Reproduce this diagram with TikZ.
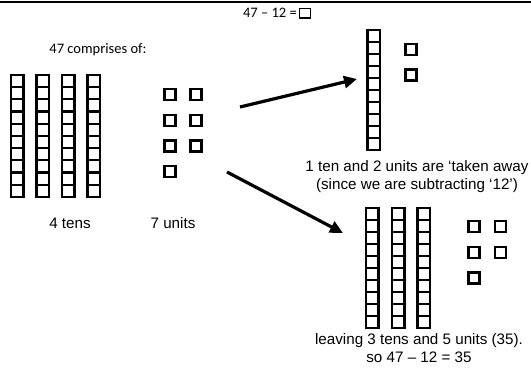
\documentclass[tikz,border=0pt]{standalone}
\usepackage{fontspec}
\setmainfont{Liberation Sans}
\newfontfamily\calfont{Carlito}
\usetikzlibrary{arrows.meta}
\newcommand\tenrod[4]{%
  \foreach \k in {0,...,9}{%
    \draw[cell] (#2,{#3+\k*(#4-#3)/10}) rectangle ++(12.5,{(#4-#3)/10});}%
  \coordinate (#1) at ({#2+6.25},{(#3+#4)/2});}
\begin{document}
\begin{tikzpicture}[x=1pt,y=-1pt,
  cell/.style={draw=black,line width=2.2pt},
  unit/.style={draw=black,line width=2.6pt,minimum size=11pt,inner sep=0pt},
  lbl/.style={font=\fontsize{15.2}{18}\selectfont,align=center,inner sep=0pt},
  clbl/.style={font=\calfont\fontsize{14.5}{17}\selectfont,inner sep=0pt},
  arr/.style={line width=3.2pt,-{Triangle[length=13pt,width=12pt]}}]
\useasboundingbox (0,0) rectangle (531,374);
\draw[line width=1.3pt] (0,2) -- (531,2);
% title
\node[clbl,anchor=east] (eq) at (297,13) {47 – 12 =};
\draw[line width=1.5pt] (299.5,8.5) rectangle (310.5,18);
\node[clbl] (comp) at (98,50) {47 comprises of:};
% left tens
\tenrod{t1}{11}{75}{197}
\tenrod{t2}{36.5}{75}{197}
\tenrod{t3}{62}{75}{197}
\tenrod{t4}{87.5}{75}{197}
% left units
\node[unit] (u1) at (170,94.5) {};
\node[unit] (u2) at (196,94.5) {};
\node[unit] (u3) at (170,120.5) {};
\node[unit] (u4) at (196,120.5) {};
\node[unit] (u5) at (170,146) {};
\node[unit] (u6) at (196,146) {};
\node[unit] (u7) at (170,171.5) {};
\node[lbl] (tens) at (70,223) {4 tens};
\node[lbl] (units) at (173,223) {7 units};
% upper right
\tenrod{r1}{367.5}{30}{150}
\node[unit] (v1) at (411,49.5) {};
\node[unit] (v2) at (411,75) {};
\node[lbl] (taken) at (417,177) {1 ten and 2 units are ‘taken away\\(since we are subtracting ‘12’)};
% lower right
\tenrod{s1}{366}{208}{328}
\tenrod{s2}{392}{208}{328}
\tenrod{s3}{417.5}{208}{328}
\node[unit] (w1) at (474,226.5) {};
\node[unit] (w2) at (500.5,226.5) {};
\node[unit] (w3) at (474,252.5) {};
\node[unit] (w4) at (500.5,252.5) {};
\node[unit] (w5) at (474,278) {};
\node[lbl] (leave) at (419,348.5) {leaving 3 tens and 5 units (35).\\so 47 – 12 = 35};
% arrows
\coordinate (a1s) at (240,107);
\coordinate (a1e) at (357,79);
\coordinate (a2s) at (227,172);
\coordinate (a2e) at (343,233);
\draw[arr] (a1s) -- (a1e);
\draw[arr] (a2s) -- (a2e);
\end{tikzpicture}
\end{document}
